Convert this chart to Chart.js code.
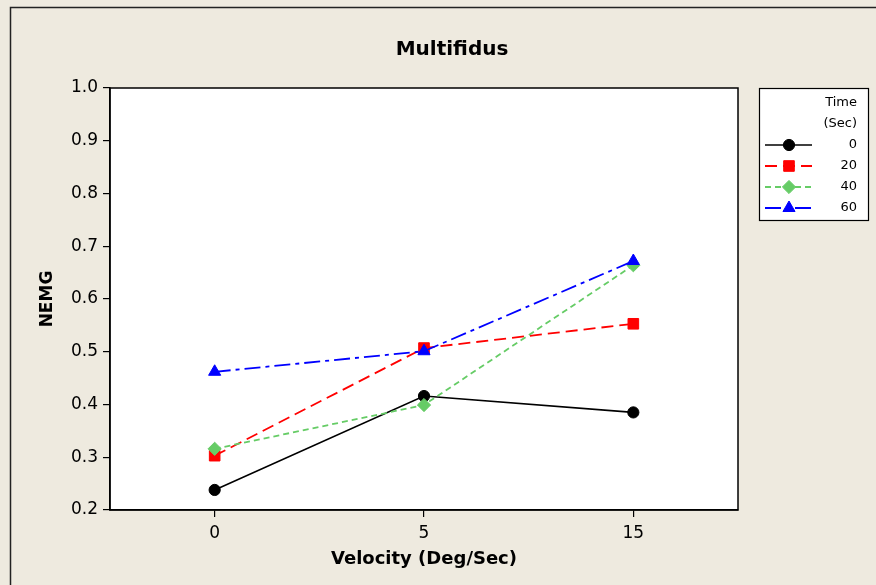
<!DOCTYPE html>
<html>
<head>
<meta charset="utf-8">
<title>Multifidus</title>
<script src="https://cdn.jsdelivr.net/npm/chart.js@4.4.1/dist/chart.umd.min.js"></script>
<style>
  html, body { margin: 0; padding: 0; background: #EEEADF; }
  #wrap { width: 876px; height: 585px; }
</style>
</head>
<body>
<div id="wrap"><canvas id="c" width="876" height="585"></canvas></div>
<script>
// Velocity levels on the x axis (categorical)
const velocities = ['0', '5', '15'];
// Mean normalised EMG for each time point
const time0  = [0.238, 0.416, 0.385];
const time20 = [0.303, 0.507, 0.553];
const time40 = [0.316, 0.399, 0.664];
const time60 = [0.462, 0.501, 0.672];
const timeLabels = ['0', '20', '40', '60'];
const yMin = 0.2, yMax = 1.0, yStep = 0.1;

const FONT = "'DejaVu Sans', Verdana, sans-serif";
const BG = '#EEEADF';

function series(label, data, color, width, dash, style, radius, order) {
  return {
    label, data,
    borderColor: color, backgroundColor: color,
    borderWidth: width, borderDash: dash,
    pointStyle: style, pointRadius: radius, pointHoverRadius: radius,
    pointBackgroundColor: color, pointBorderColor: color, pointBorderWidth: 1,
    tension: 0, fill: false, order
  };
}

const datasets = [
  series(timeLabels[0], time0,  '#000000', 1.6, [],            'circle',   5.6, 4),
  series(timeLabels[1], time20, '#FF0000', 1.8, [12, 6],       'rect',     7.5, 3),
  series(timeLabels[2], time40, '#66CC66', 1.8, [6, 4],        'rectRot',  6.6, 2),
  series(timeLabels[3], time60, '#0000FF', 1.8, [16, 5, 4, 5], 'triangle', 7,   1)
];

// Page background, outer frame and white plot panel
const backdrop = {
  id: 'backdrop',
  beforeDraw(chart) {
    const ctx = chart.ctx, a = chart.chartArea;
    ctx.save();
    ctx.fillStyle = BG;
    ctx.fillRect(0, 0, chart.width, chart.height);
    ctx.strokeStyle = '#222';
    ctx.lineWidth = 1.5;
    ctx.beginPath();
    ctx.moveTo(10.5, chart.height);
    ctx.lineTo(10.5, 7.5);
    ctx.lineTo(chart.width, 7.5);
    ctx.stroke();
    ctx.fillStyle = '#FFFFFF';
    ctx.fillRect(a.left, a.top, a.right - a.left, a.bottom - a.top);
    ctx.restore();
  },
  afterDraw(chart) {
    const ctx = chart.ctx, a = chart.chartArea;
    ctx.save();
    ctx.strokeStyle = '#000';
    ctx.lineWidth = 1.5;
    ctx.strokeRect(a.left, a.top, a.right - a.left, a.bottom - a.top);
    ctx.restore();
  }
};

// Chart heading
const heading = {
  id: 'heading',
  afterDraw(chart) {
    const ctx = chart.ctx;
    ctx.save();
    ctx.fillStyle = '#000';
    ctx.font = 'bold 20px ' + FONT;
    ctx.textAlign = 'center';
    ctx.textBaseline = 'middle';
    ctx.fillText('Multifidus', 452, 50);
    ctx.restore();
  }
};

// Boxed key on the right, built from the dataset styles
const keyBox = {
  id: 'keyBox',
  afterDraw(chart) {
    const ctx = chart.ctx;
    const bx = 759.5, by = 88.5, bw = 109, bh = 132;
    ctx.save();
    ctx.fillStyle = '#FFFFFF';
    ctx.fillRect(bx, by, bw, bh);
    ctx.strokeStyle = '#000';
    ctx.lineWidth = 1.2;
    ctx.strokeRect(bx, by, bw, bh);

    ctx.fillStyle = '#000';
    ctx.font = '13px ' + FONT;
    ctx.textAlign = 'right';
    ctx.textBaseline = 'middle';
    ctx.fillText('Time', 857, 103);
    ctx.fillText('(Sec)', 857, 124);

    chart.data.datasets.forEach((ds, i) => {
      const y = 145 + i * 21;
      ctx.save();
      ctx.strokeStyle = ds.borderColor;
      ctx.lineWidth = ds.borderWidth;
      ctx.setLineDash(ds.borderDash || []);
      ctx.beginPath();
      ctx.moveTo(765, y);
      ctx.lineTo(812, y);
      ctx.stroke();
      ctx.setLineDash([]);
      ctx.fillStyle = ds.pointBackgroundColor;
      ctx.strokeStyle = ds.pointBorderColor;
      ctx.lineWidth = ds.pointBorderWidth;
      Chart.helpers.drawPoint(ctx, { pointStyle: ds.pointStyle, radius: ds.pointRadius, rotation: 0, borderWidth: ds.pointBorderWidth }, 789, y);
      ctx.restore();
      ctx.fillStyle = '#000';
      ctx.fillText(ds.label, 857, y);
    });
    ctx.restore();
  }
};

Chart.defaults.font.family = FONT;
Chart.defaults.color = '#000';

new Chart(document.getElementById('c'), {
  type: 'line',
  data: { labels: velocities, datasets },
  options: {
    responsive: false,
    animation: false,
    events: [],
    layout: { padding: { left: 0, top: 88, right: 138, bottom: 0 } },
    plugins: {
      legend: { display: false },
      title: { display: false },
      tooltip: { enabled: false }
    },
    scales: {
      x: {
        type: 'category',
        offset: true,
        afterFit(s) { s.height = 75; },
        grid: { offset: false, drawOnChartArea: false, drawTicks: true, tickLength: 7, color: '#000', lineWidth: 1.2 },
        border: { display: true, color: '#000', width: 1.5 },
        ticks: { font: { size: 17 }, padding: 6, color: '#000' },
        title: {
          display: true, text: 'Velocity (Deg/Sec)',
          font: { size: 18, weight: 'bold' }, color: '#000',
          padding: { top: 0, bottom: 15 }
        }
      },
      y: {
        min: yMin, max: yMax,
        afterFit(s) { s.width = 110; },
        grid: { drawOnChartArea: false, drawTicks: true, tickLength: 7, color: '#000', lineWidth: 1.2 },
        border: { display: true, color: '#000', width: 1.5 },
        ticks: {
          stepSize: yStep, font: { size: 17 }, padding: 5, color: '#000',
          callback: v => Number(v).toFixed(1)
        },
        title: {
          display: true, text: 'NEMG',
          font: { size: 17, weight: 'bold' }, color: '#000',
          padding: { top: 37, bottom: 0 }
        }
      }
    }
  },
  plugins: [backdrop, heading, keyBox]
});
</script>
</body>
</html>
